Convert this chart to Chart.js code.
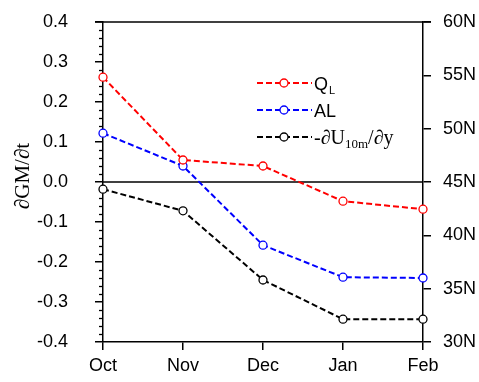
<!DOCTYPE html>
<html>
<head>
<meta charset="utf-8">
<script src="https://cdn.jsdelivr.net/npm/chart.js@4"></script>
<style>
html,body{margin:0;padding:0;background:#fff;}
#wrap{width:479px;height:382px;}
</style>
</head>
<body>
<div id="wrap"><canvas id="c" width="479" height="382"></canvas></div>
<script>
const months = ['Oct', 'Nov', 'Dec', 'Jan', 'Feb'];
const qL = [0.262, 0.055, 0.040, -0.048, -0.068];
const al = [0.122, 0.040, -0.158, -0.238, -0.240];
const dU = [-0.018, -0.072, -0.245, -0.343, -0.343];
const leftTicks = [-0.4, -0.3, -0.2, -0.1, 0.0, 0.1, 0.2, 0.3, 0.4];
const rightTicks = [30, 35, 40, 45, 50, 55, 60];
const yTitle = '\u2202GM/\u2202t';

const SANS = '"Liberation Sans", Arial, Helvetica, sans-serif';
const SERIF = '"Liberation Serif", "Times New Roman", serif';

const ds = (label, data, color) => ({
  label, data,
  borderColor: color,
  backgroundColor: '#fff',
  borderWidth: 2,
  borderDash: [6, 3],
  pointRadius: 4,
  pointHoverRadius: 4,
  pointBorderWidth: 1.3,
  pointBackgroundColor: '#fff',
  pointBorderColor: color,
  tension: 0,
  yAxisID: 'y'
});

function noPad(s) {
  s.paddingTop = 0; s.paddingBottom = 0; s.paddingLeft = 0; s.paddingRight = 0;
}

const extras = {
  id: 'extras',
  beforeDatasetsDraw(chart) {
    const ctx = chart.ctx, a = chart.chartArea, y = chart.scales.y;
    ctx.save();
    ctx.strokeStyle = '#000';
    ctx.lineWidth = 1.5;
    ctx.beginPath();
    ctx.moveTo(a.left - 8, a.top); ctx.lineTo(a.right + 8, a.top);
    ctx.stroke();
    const z = y.getPixelForValue(0);
    ctx.beginPath();
    ctx.moveTo(a.left, z); ctx.lineTo(a.right, z);
    ctx.stroke();
    ctx.lineWidth = 1.3;
    for (let i = -20; i <= 20; i++) {
      if (i % 5 === 0) continue;
      const p = Math.round(y.getPixelForValue(i * 0.02)) + 0.5;
      ctx.beginPath();
      ctx.moveTo(a.left - 4, p); ctx.lineTo(a.left, p);
      ctx.stroke();
    }
    ctx.restore();
  },
  afterDatasetsDraw(chart) {
    const ctx = chart.ctx;
    ctx.save();
    ctx.fillStyle = '#000';
    ctx.font = '21px ' + SERIF;
    ctx.textAlign = 'center';
    ctx.textBaseline = 'middle';
    ctx.translate(23, 176);
    ctx.rotate(-Math.PI / 2);
    ctx.fillText(yTitle, 0, 0);
    ctx.restore();

    const rows = [
      {ds: 0, y: 83},
      {ds: 1, y: 110},
      {ds: 2, y: 137}
    ];
    rows.forEach(r => {
      const d = chart.data.datasets[r.ds];
      ctx.save();
      ctx.strokeStyle = d.borderColor;
      ctx.lineWidth = 2;
      ctx.setLineDash([6, 3]);
      ctx.beginPath();
      ctx.moveTo(257, r.y); ctx.lineTo(312, r.y);
      ctx.stroke();
      ctx.setLineDash([]);
      ctx.fillStyle = '#fff';
      ctx.lineWidth = 1.3;
      ctx.beginPath();
      ctx.arc(284, r.y, 4, 0, Math.PI * 2);
      ctx.fill(); ctx.stroke();
      ctx.fillStyle = '#000';
      ctx.textBaseline = 'alphabetic';
      ctx.textAlign = 'left';
      let x = 314;
      const base = r.y + 7;
      if (r.ds === 0) {
        ctx.font = '18px ' + SANS;
        ctx.fillText('Q', x, base);
        x += ctx.measureText('Q').width + 1;
        ctx.font = '11px ' + SANS;
        ctx.fillText('L', x, base + 4);
      } else if (r.ds === 1) {
        ctx.font = '18px ' + SANS;
        ctx.fillText('AL', x, base);
      } else {
        ctx.font = '20px ' + SERIF;
        const t1 = '-\u2202U';
        ctx.fillText(t1, x, base);
        x += ctx.measureText(t1).width;
        ctx.font = '13px ' + SERIF;
        ctx.fillText('10m', x, base + 4);
        x += ctx.measureText('10m').width;
        ctx.font = '20px ' + SERIF;
        ctx.fillText('/\u2202y', x, base);
      }
      ctx.restore();
    });
  }
};

new Chart(document.getElementById('c'), {
  type: 'line',
  data: {
    labels: months,
    datasets: [
      ds('QL', qL, '#ff0000'),
      ds('AL', al, '#0000ff'),
      ds('-dU10m/dy', dU, '#000000')
    ]
  },
  options: {
    responsive: false,
    animation: false,
    devicePixelRatio: 1,
    layout: {padding: {top: 22, left: 0, right: 0, bottom: 0}},
    plugins: {legend: {display: false}, tooltip: {enabled: false}},
    scales: {
      x: {
        type: 'category',
        offset: false,
        grid: {drawOnChartArea: false, tickLength: 8, color: '#000', lineWidth: 1.5},
        border: {color: '#000', width: 1.5},
        ticks: {color: '#000', font: {family: SANS, size: 18}, padding: 5, maxRotation: 0},
        afterFit(s) { s.height = 40; noPad(s); }
      },
      y: {
        position: 'left',
        min: -0.4, max: 0.4,
        afterBuildTicks(s) { s.ticks = leftTicks.map(v => ({value: v})); },
        grid: {drawOnChartArea: false, tickLength: 8, color: '#000', lineWidth: 1.5},
        border: {color: '#000', width: 1.5},
        ticks: {color: '#000', font: {family: SANS, size: 18}, padding: 27,
          callback: v => Number(v).toFixed(1)},
        afterFit(s) { s.width = 103; noPad(s); }
      },
      y2: {
        position: 'right',
        min: 30, max: 60,
        afterBuildTicks(s) { s.ticks = rightTicks.map(v => ({value: v})); },
        grid: {drawOnChartArea: false, tickLength: 8, color: '#000', lineWidth: 1.5},
        border: {color: '#000', width: 1.5},
        ticks: {color: '#000', font: {family: SANS, size: 18}, padding: 12,
          callback: v => v + 'N'},
        afterFit(s) { s.width = 56; noPad(s); }
      }
    }
  },
  plugins: [extras]
});
</script>
</body>
</html>
